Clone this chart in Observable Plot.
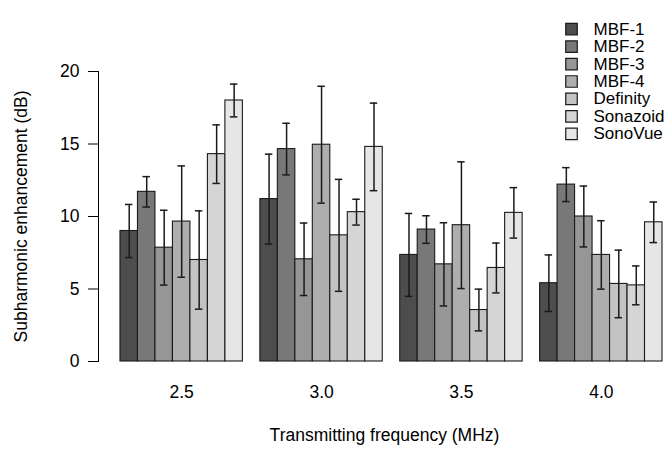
<!DOCTYPE html>
<html>
<head>
<meta charset="utf-8">
<script src="https://cdn.jsdelivr.net/npm/d3@7"></script>
<script src="https://cdn.jsdelivr.net/npm/@observablehq/plot@0.6"></script>
<style>
  body { margin: 0; background: #fff; }
  #wrap { position: relative; width: 664px; height: 449px; font-family: "Liberation Sans", Arial, Helvetica, sans-serif; }
  #legend { position: absolute; left: 560px; top: 10px; }
</style>
</head>
<body>
<div id="wrap"><div id="chart"></div><div id="legend"></div></div>
<script>
const freqs = ["2.5", "3.0", "3.5", "4.0"];
const agents = ["MBF-1", "MBF-2", "MBF-3", "MBF-4", "Definity", "Sonazoid", "SonoVue"];
const colors = ["#4D4D4D", "#787878", "#969696", "#AEAEAE", "#C3C3C3", "#D5D5D5", "#E6E6E6"];

// mean subharmonic enhancement (dB) per agent, at 2.5, 3.0, 3.5, 4.0 MHz
const meanMBF1 = [9.0, 11.2, 7.35, 5.4];
const meanMBF2 = [11.7, 14.65, 9.1, 12.2];
const meanMBF3 = [7.85, 7.05, 6.7, 10.0];
const meanMBF4 = [9.65, 14.95, 9.4, 7.35];
const meanDefinity = [7.0, 8.7, 3.55, 5.35];
const meanSonazoid = [14.3, 10.3, 6.45, 5.25];
const meanSonoVue = [18.0, 14.8, 10.25, 9.6];

// error bar half-widths (dB)
const errMBF1 = [1.83, 3.1, 2.86, 1.95];
const errMBF2 = [1.05, 1.78, 0.95, 1.17];
const errMBF3 = [2.58, 2.5, 2.87, 2.1];
const errMBF4 = [3.84, 4.03, 4.37, 2.36];
const errDefinity = [3.39, 3.86, 1.44, 2.33];
const errSonazoid = [2.02, 0.89, 1.72, 1.34];
const errSonoVue = [1.13, 3.02, 1.74, 1.4];

const yTicks = [0, 5, 10, 15, 20];

const means = [meanMBF1, meanMBF2, meanMBF3, meanMBF4, meanDefinity, meanSonazoid, meanSonoVue];
const errs = [errMBF1, errMBF2, errMBF3, errMBF4, errDefinity, errSonazoid, errSonoVue];

// slots: one gap slot before each group, then one slot per agent
const slots = [];
freqs.forEach(f => { slots.push("gap " + f); agents.forEach(a => slots.push(f + "|" + a)); });

const rows = [];
freqs.forEach((f, fi) => agents.forEach((a, ai) => {
  rows.push({freq: f, agent: a, slot: f + "|" + a, value: means[ai][fi], err: errs[ai][fi]});
}));
const centers = freqs.map(f => ({freq: f, slot: f + "|" + agents[3]}));

const font = "Liberation Sans, Arial, Helvetica, sans-serif";

const chart = Plot.plot({
  width: 664,
  height: 449,
  marginTop: 71,
  marginBottom: 88,
  marginLeft: 98,
  marginRight: 2,
  style: {fontFamily: font, fontSize: "17px", background: "#fff", color: "#000"},
  x: {domain: slots, range: [102.5, 662], padding: 0, round: false, axis: null},
  y: {domain: [0, 20], nice: false, axis: null},
  color: {domain: agents, range: colors},
  marks: [
    Plot.barY(rows, {x: "slot", y: "value", fill: "agent", stroke: "#1a1a1a", strokeWidth: 1.1}),
    Plot.ruleX(rows, {x: "slot", y1: d => d.value - d.err, y2: d => d.value + d.err, stroke: "#1a1a1a", strokeWidth: 1.5}),
    Plot.tickY(rows, {x: "slot", y: d => d.value - d.err, stroke: "#1a1a1a", strokeWidth: 1.5, insetLeft: 5, insetRight: 5}),
    Plot.tickY(rows, {x: "slot", y: d => d.value + d.err, stroke: "#1a1a1a", strokeWidth: 1.5, insetLeft: 5, insetRight: 5}),
    Plot.frame({anchor: "left", stroke: "#000", strokeWidth: 1}),
    Plot.axisY({ticks: yTicks, tickSize: 10, tickPadding: 9, fontSize: 17.5, label: null, stroke: "#000", strokeWidth: 1}),
    Plot.text(centers, {x: "slot", text: "freq", frameAnchor: "bottom", dy: 36, fontSize: 17.5, fill: "#000"}),
    Plot.text(["Transmitting frequency (MHz)"], {frameAnchor: "bottom", dy: 79, dx: 4, fontSize: 17.5, fill: "#000"}),
    Plot.text(["Subharmonic enhancement (dB)"], {frameAnchor: "left", dx: -77, rotate: -90, textAnchor: "middle", fontSize: 17.5, fill: "#000"})
  ]
});
document.getElementById("chart").appendChild(chart);

// legend drawn as a small Plot with the same colour scale
const legend = Plot.plot({
  width: 104,
  height: 142,
  margin: 0,
  style: {fontFamily: font, fontSize: "17px", background: "transparent", color: "#000", overflow: "visible"},
  y: {type: "point", domain: agents, range: [10, 132], round: false, axis: null},
  color: {domain: agents, range: colors},
  marks: [
    Plot.dot(agents, {y: d => d, frameAnchor: "left", dx: 11, symbol: "square", r: 6.5, fill: d => d, stroke: "#1a1a1a", strokeWidth: 1.2}),
    Plot.text(agents, {y: d => d, text: d => d, frameAnchor: "left", dx: 33, textAnchor: "start", fontSize: 17, fill: "#000"})
  ]
});
document.getElementById("legend").appendChild(legend);
</script>
</body>
</html>
